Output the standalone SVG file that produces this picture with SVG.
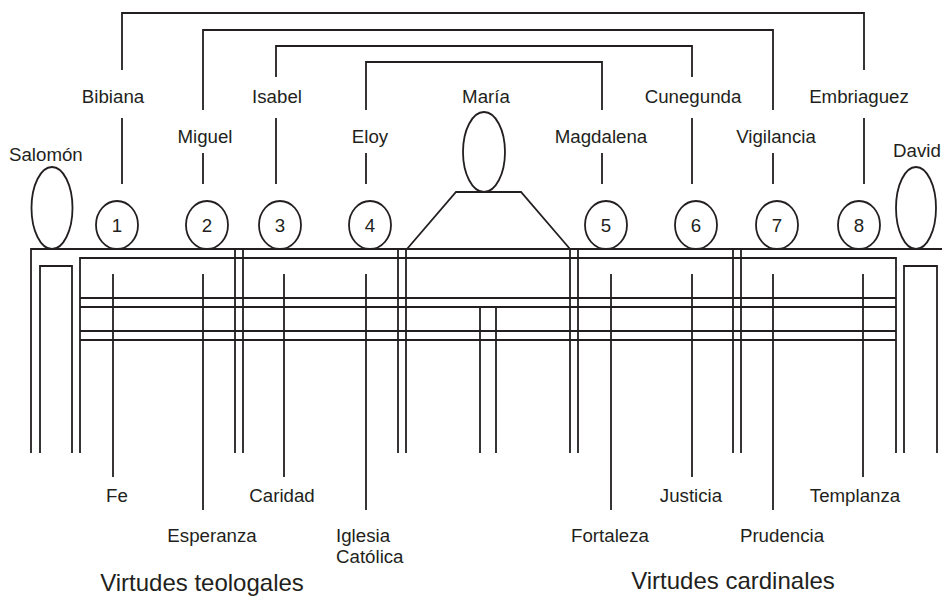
<svg xmlns="http://www.w3.org/2000/svg" width="942" height="596" viewBox="0 0 942 596">
<style>
.s{fill:none;stroke:#231f20;stroke-width:1.8}
.t{font-family:"Liberation Sans",Arial,sans-serif;font-size:18.7px;fill:#231f20}
.m{text-anchor:middle}
.big{font-family:"Liberation Sans",Arial,sans-serif;font-size:24px;fill:#231f20;text-anchor:middle}
</style>
<rect width="942" height="596" fill="#fff"/>
<g id="table" class="s">
<path d="M31,453V249H942M80,453V258H896V453M40,453V266H72V453M904,453V266H937V453"/>
<path d="M80,298H896M80,307H896M80,331H896M80,340H896"/>
<path d="M235,249V453M243,249V453M398,249V453M406,249V453M570,249V453M578,249V453M733,249V453M741,249V453"/>
<path d="M480,307V453M496,307V453"/>
<path d="M407,249L456,192H521L570,249"/>
</g>
<g id="salomon"><ellipse class="s" cx="52" cy="208" rx="20.5" ry="41"/><text class="t" x="9" y="161">Salomón</text></g>
<g id="david"><ellipse class="s" cx="916" cy="208" rx="20" ry="41"/><text class="t" x="893" y="157">David</text></g>
<g id="maria"><ellipse class="s" cx="484" cy="152" rx="21" ry="40"/><text class="t m" x="486" y="103">María</text></g>
<g id="n1"><ellipse class="s" cx="117" cy="225" rx="21" ry="24"/><text class="t m" x="117" y="232">1</text></g>
<g id="n2"><ellipse class="s" cx="207" cy="225" rx="21" ry="24"/><text class="t m" x="207" y="232">2</text></g>
<g id="n3"><ellipse class="s" cx="280" cy="225" rx="21" ry="24"/><text class="t m" x="280" y="232">3</text></g>
<g id="n4"><ellipse class="s" cx="370" cy="225" rx="21" ry="24"/><text class="t m" x="370" y="232">4</text></g>
<g id="n5"><ellipse class="s" cx="606" cy="225" rx="21" ry="24"/><text class="t m" x="606" y="232">5</text></g>
<g id="n6"><ellipse class="s" cx="696" cy="225" rx="21" ry="24"/><text class="t m" x="696" y="232">6</text></g>
<g id="n7"><ellipse class="s" cx="777" cy="225" rx="21" ry="24"/><text class="t m" x="777" y="232">7</text></g>
<g id="n8"><ellipse class="s" cx="859" cy="225" rx="21" ry="24"/><text class="t m" x="859" y="232">8</text></g>
<g id="saints">
<text class="t m" x="113" y="103">Bibiana</text>
<text class="t m" x="277" y="103">Isabel</text>
<text class="t m" x="693" y="103">Cunegunda</text>
<text class="t m" x="859" y="103">Embriaguez</text>
<text class="t m" x="205" y="143">Miguel</text>
<text class="t m" x="370" y="143">Eloy</text>
<text class="t m" x="601" y="143">Magdalena</text>
<text class="t m" x="776" y="143">Vigilancia</text>
</g>
<g id="virtues">
<text class="t m" x="117" y="502">Fe</text>
<text class="t m" x="212" y="542">Esperanza</text>
<text class="t m" x="282" y="502">Caridad</text>
<text class="t" x="336" y="542">Iglesia</text>
<text class="t" x="336" y="563">Católica</text>
<text class="t m" x="610" y="542">Fortaleza</text>
<text class="t m" x="691" y="502">Justicia</text>
<text class="t m" x="782" y="542">Prudencia</text>
<text class="t m" x="855" y="502">Templanza</text>
<text class="big" x="202" y="591">Virtudes teologales</text>
<text class="big" x="733" y="589">Virtudes cardinales</text>
</g>
<g id="connectors" class="s">
<path d="M122,70V13H864V70M203,110V30H773V110M276,77V46H692V77M366,110V62H602V110"/>
<path d="M122,118V184M276,118V184M692,118V184M864,118V184M203,153V184M366,153V184M602,153V184M773,153V184"/>
<path d="M113,274V477M284,274V477M692,274V477M863,274V477M203,274V510M366,274V510M611,274V510M773,274V510"/>
</g>
</svg>
